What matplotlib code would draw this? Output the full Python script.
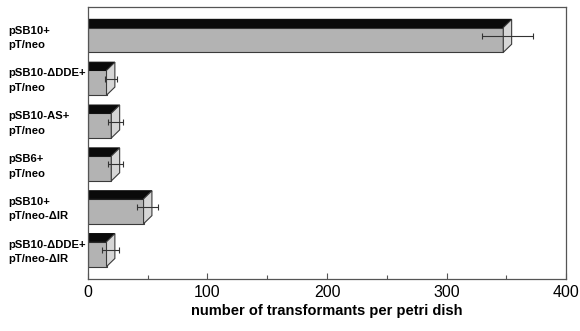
import matplotlib
matplotlib.use('Agg')
import matplotlib.pyplot as plt
from matplotlib.patches import Polygon

plt.rcParams['font.family'] = ['Liberation Sans', 'DejaVu Sans']

# data (top to bottom)
labels = ['pSB10+\npT/neo', 'pSB10-\u0394DDE+\npT/neo', 'pSB10-AS+\npT/neo',
          'pSB6+\npT/neo', 'pSB10+\npT/neo-\u0394IR', 'pSB10-\u0394DDE+\npT/neo-\u0394IR']
values = [351, 19, 23, 23, 50, 19]
errors = [21, 5, 6, 6, 9, 7]

# 3d look of the bars
dx = 7.0     # depth in x units
dy = 0.19    # depth in category units
half = 0.29  # half height of the front face

fig = plt.figure(figsize=(5.8, 3.31), dpi=100)
ax = fig.add_axes([0.1517, 0.157, 0.8242, 0.822])

edge = '#3a3a3a'
for i, (v, e) in enumerate(zip(values, errors)):
    f = v - dx / 2
    y0, y1 = i - half, i + half
    front = Polygon([(0, y0), (f, y0), (f, y1), (0, y1)], closed=True,
                    facecolor='#b3b3b3', edgecolor=edge, lw=0.8, zorder=2)
    top = Polygon([(0, y0), (f, y0), (f + dx, y0 - dy), (0, y0 - dy)], closed=True,
                  facecolor='#0a0a0a', edgecolor='#0a0a0a', lw=0.8, zorder=2)
    side = Polygon([(f, y0), (f + dx, y0 - dy), (f + dx, y1 - dy), (f, y1)], closed=True,
                   facecolor='#d6d6d6', edgecolor=edge, lw=0.8, zorder=2)
    for p in (front, top, side):
        ax.add_patch(p)
    ax.errorbar(v, i - dy / 2, xerr=e, fmt='none', ecolor='#333333',
                elinewidth=0.8, capsize=2.5, capthick=0.8, zorder=3)

# category labels, left aligned at the figure edge
for i, lab in enumerate(labels):
    ax.text(-0.1665, i - 0.05, lab, transform=ax.get_yaxis_transform(),
            ha='left', va='center', fontsize=8.1, fontweight='bold', linespacing=1.55)

ax.set_xlim(0, 400)
ax.set_ylim(5.58, -0.77)
ax.set_xticks([0, 100, 200, 300, 400])
ax.set_xticks([50, 150, 250, 350], minor=True)
ax.tick_params(axis='x', which='major', direction='in', length=4, width=0.8,
               labelsize=11.5, pad=4, colors='#555555', labelcolor='black')
ax.tick_params(axis='x', which='minor', direction='in', length=3, width=0.8, colors='#555555')
ax.set_yticks([])
for s in ax.spines.values():
    s.set_color('#555555')
    s.set_linewidth(0.9)

ax.set_xlabel('number of transformants per petri dish', fontsize=10.5, fontweight='bold', labelpad=3)

fig.savefig('out.png', dpi=100)
